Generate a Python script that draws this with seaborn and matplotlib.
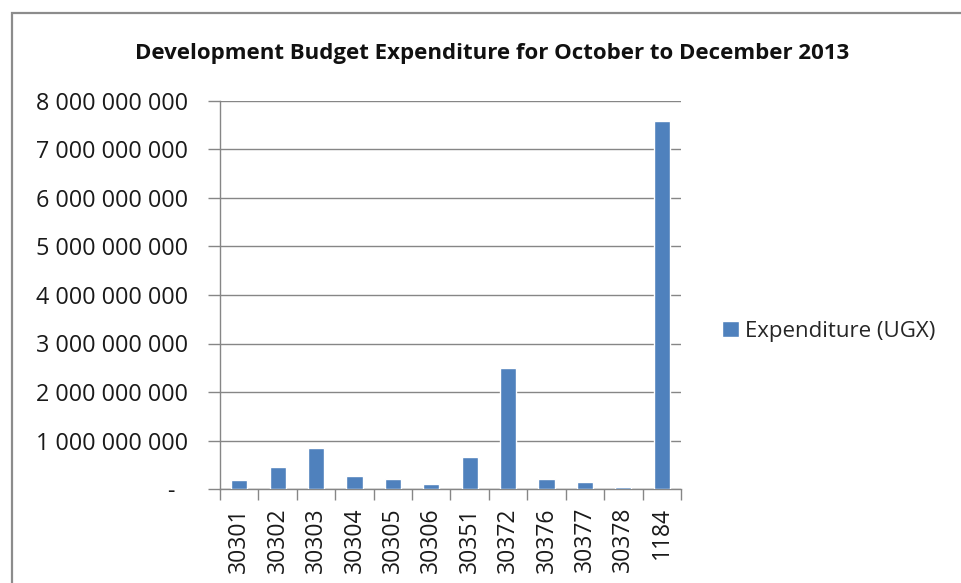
import matplotlib
matplotlib.use("Agg")
import matplotlib.pyplot as plt
import seaborn as sns
import pandas as pd
from matplotlib.patches import Rectangle
from matplotlib.ticker import FixedLocator

codes = ["30301", "30302", "30303", "30304", "30305", "30306",
         "30351", "30372", "30376", "30377", "30378", "1184"]
expenditure = [0.19e9, 0.455e9, 0.855e9, 0.27e9, 0.21e9, 0.11e9,
               0.65e9, 2.5e9, 0.21e9, 0.14e9, 0.035e9, 7.58e9]
ytick_values = [0, 1e9, 2e9, 3e9, 4e9, 5e9, 6e9, 7e9, 8e9]
ytick_labels = ["-  ", "1 000 000 000", "2 000 000 000", "3 000 000 000",
                "4 000 000 000", "5 000 000 000", "6 000 000 000",
                "7 000 000 000", "8 000 000 000"]
series_name = "Expenditure (UGX)"
title = "Development Budget Expenditure for October to December 2013"

sns.set_theme(style="white")
plt.rcParams['font.family'] = ['Open Sans', 'DejaVu Sans']

df = pd.DataFrame({"code": codes, "value": expenditure})

fig = plt.figure(figsize=(9.62, 5.83), dpi=100)
ax = fig.add_axes([220/962, 1-489/583, (681-220)/962, (489-101)/583])

BAR = "#4F81BD"
GRID = "#868686"
sns.barplot(data=df, x="code", y="value", order=codes, color=BAR,
            width=0.42, saturation=1, ax=ax, label=series_name, zorder=3)

ax.set_ylim(0, 8e9)
ax.set_xlim(-0.5, len(codes) - 0.5)
ax.set_yticks(ytick_values)
ax.set_yticklabels(ytick_labels, fontsize=16.8, color="#1a1a1a")
ax.yaxis.grid(True, color=GRID, linewidth=1)
ax.set_axisbelow(True)
ax.tick_params(axis="y", which="major", left=True, length=9, width=1,
               color=GRID, pad=14)

ax.set_xticks(range(len(codes)))
ax.set_xticklabels(codes, rotation=90, fontsize=16.5, color="#1a1a1a")
ax.xaxis.set_minor_locator(FixedLocator([i - 0.5 for i in range(len(codes) + 1)]))
ax.tick_params(axis="x", which="major", length=0, pad=13)
ax.tick_params(axis="x", which="minor", bottom=True, length=8, width=1, color=GRID)
ax.set_xlabel("")
ax.set_ylabel("")

for side in ["top", "right"]:
    ax.spines[side].set_visible(False)
for side in ["left", "bottom"]:
    ax.spines[side].set_color(GRID)
    ax.spines[side].set_linewidth(1)
    ax.spines[side].set_zorder(2)

fig.text(492/962, 1-53/583, title, ha="center", va="center",
         fontsize=16, fontweight="bold", color="#111111")

leg = ax.legend(loc="center left", bbox_to_anchor=(713/962, 1-331/583),
                bbox_transform=fig.transFigure, frameon=False, fontsize=16,
                handlelength=0.75, handleheight=0.75, handletextpad=0.3,
                borderaxespad=0)

fig.patches.append(Rectangle((12/962, -0.05), 1.1, 1 - 13/583 + 0.05,
                             transform=fig.transFigure, fill=False,
                             edgecolor="#8c8c8c", linewidth=1.6, zorder=0))

fig.savefig("out.png", dpi=100)
